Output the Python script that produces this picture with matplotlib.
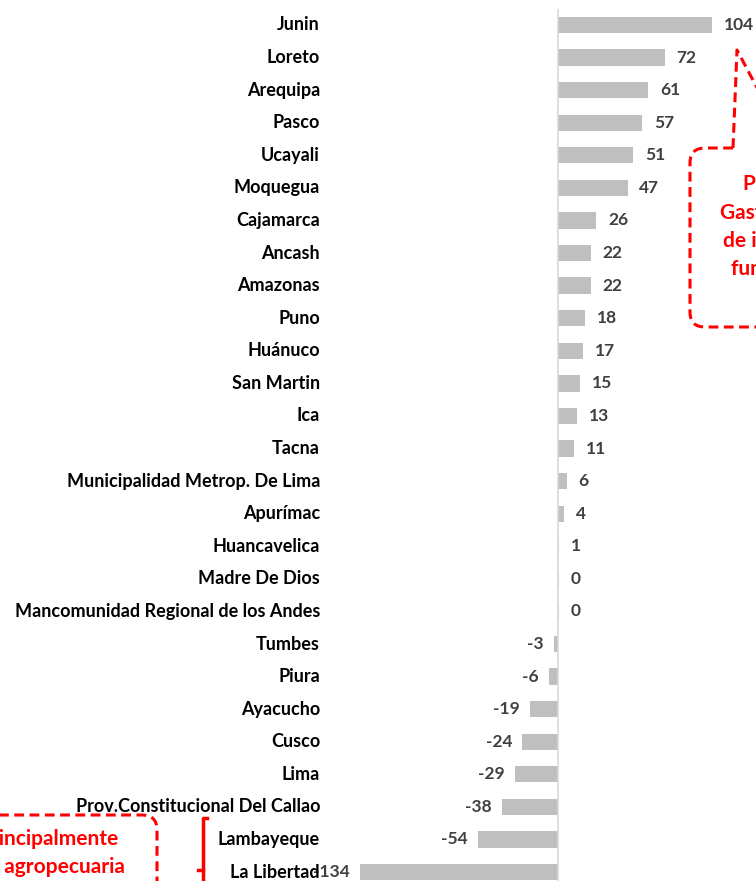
import matplotlib.pyplot as plt
from matplotlib.path import Path
from matplotlib.patches import PathPatch
from matplotlib.lines import Line2D

# ====================== DATA ======================
regions = [
    "Junin", "Loreto", "Arequipa", "Pasco", "Ucayali", "Moquegua", "Cajamarca",
    "Ancash", "Amazonas", "Puno", "Huánuco", "San Martin", "Ica", "Tacna",
    "Municipalidad Metrop. De Lima", "Apurímac", "Huancavelica", "Madre De Dios",
    "Mancomunidad Regional de los Andes", "Tumbes", "Piura", "Ayacucho", "Cusco",
    "Lima", "Prov.Constitucional Del Callao", "Lambayeque", "La Libertad",
]
values = [104, 72, 61, 57, 51, 47, 26, 22, 22, 18, 17, 15, 13, 11, 6, 4, 1,
          0.4, 0.4, -3, -6, -19, -24, -29, -38, -54, -134]
value_labels = ["104", "72", "61", "57", "51", "47", "26", "22", "22", "18",
                "17", "15", "13", "11", "6", "4", "1", "0", "0", "-3", "-6",
                "-19", "-24", "-29", "-38", "-54", "-134"]

callout_right = ["Principalmente", "Gasto corriente", "de inversión en", "función transporte"]
callout_left = ["Principalmente", "función agropecuaria"]

# ====================== FIGURE ======================
W, H = 756, 881
plt.rcParams['font.family'] = ['Lato', 'DejaVu Sans']
fig = plt.figure(figsize=(W / 100, H / 100), dpi=100)
ax = fig.add_axes([0, 0, 1, 1])

x0, scale = 558, 1.48          # zero line position (px) and px per unit
y0, step = 25, 32.58           # first bar centre (px) and bar spacing
ax.set_xlim(-x0 / scale, (W - x0) / scale)
ax.set_ylim((H - y0) / step, -y0 / step)
ax.axis('off')

pos = list(range(len(regions)))
ax.barh(pos, values, height=0.5, color="#bfbfbf", zorder=2)
ax.vlines(0, -0.48, len(regions), color="#d9d9d9", lw=1.2, zorder=3)

for i, (v, lab) in enumerate(zip(values, value_labels)):
    if v >= 0:
        ax.text(v + 8, i, lab, ha='left', va='center', fontsize=12.5,
                fontweight='bold', color="#404040", zorder=4)
    else:
        ax.text(v - 7, i, lab, ha='right', va='center', fontsize=12.5,
                fontweight='bold', color="#404040", zorder=4)

lab_x = (320 - x0) / scale
for i, name in enumerate(regions):
    ax.text(lab_x, i, name, ha='right', va='center', fontsize=13,
            fontweight='bold', color="black", zorder=5)


# ====================== CALLOUTS ======================
def px(x, y):
    return (x / W, 1 - y / H)


red = "#ff0000"
dash = dict(lw=2.2, ls=(0, (3.2, 1.8)), color=red)

# right callout: rounded box with pointer to "104"
verts = [px(733, 148), px(705, 148), px(690, 148), px(690, 163), px(690, 312),
         px(690, 327), px(705, 327), px(820, 327)]
codes = [Path.MOVETO, Path.LINETO, Path.CURVE3, Path.CURVE3, Path.LINETO,
         Path.CURVE3, Path.CURVE3, Path.LINETO]
fig.patches.append(PathPatch(Path(verts, codes), fill=False, transform=fig.transFigure,
                             edgecolor=red, lw=2.2, ls=(0, (3.2, 1.8))))
fig.lines.append(Line2D(*zip(px(733, 148), px(737, 50), px(790, 150)),
                        transform=fig.transFigure, **dash))
for (lx, ly), line in zip([(742, 184), (720, 213), (723, 241), (731, 269)], callout_right):
    fig.text(*px(lx, ly), line, ha='left', va='center', fontsize=15,
             fontweight='bold', color=red)

# left callout: rounded box
verts = [px(-50, 815), px(142, 815), px(157, 815), px(157, 830), px(157, 900)]
codes = [Path.MOVETO, Path.LINETO, Path.CURVE3, Path.CURVE3, Path.LINETO]
fig.patches.append(PathPatch(Path(verts, codes), fill=False, transform=fig.transFigure,
                             edgecolor=red, lw=2.2, ls=(0, (3.2, 1.8))))
fig.text(*px(119, 839), callout_left[0], ha='right', va='center', fontsize=15,
         fontweight='bold', color=red)
fig.text(*px(125, 867), callout_left[1], ha='right', va='center', fontsize=15,
         fontweight='bold', color=red)

# bracket
fig.lines.append(Line2D(*zip(px(207, 818), px(203, 818), px(203, 890)),
                        transform=fig.transFigure, lw=2.5, color=red))
fig.lines.append(Line2D(*zip(px(198, 870), px(203, 870)),
                        transform=fig.transFigure, lw=2.5, color=red))

fig.savefig("out.png", dpi=100)
